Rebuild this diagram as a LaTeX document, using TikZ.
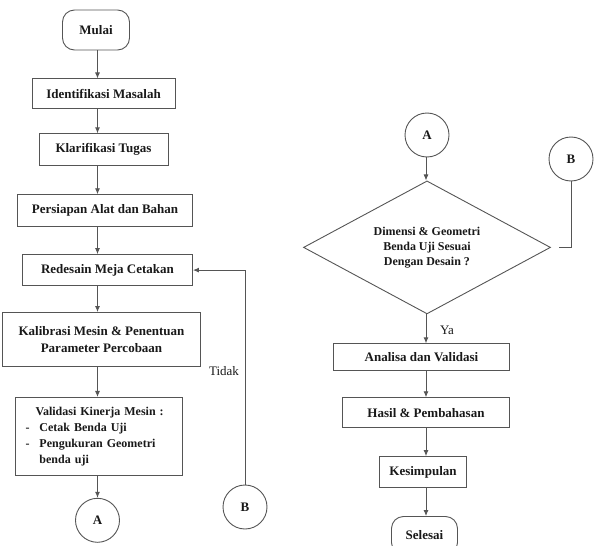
\documentclass[tikz,border=0pt]{standalone}
\usepackage{fontspec}
\setmainfont{Liberation Serif}
\usetikzlibrary{arrows.meta,positioning,shapes.geometric}
\definecolor{lineg}{RGB}{85,85,85}
\definecolor{textg}{RGB}{25,25,25}
\begin{document}
\begin{tikzpicture}[
 x=1pt,y=1pt,
 every node/.style={font=\fontsize{13}{16}\selectfont\bfseries,text=textg,align=center},
 terminal/.style={draw=lineg,line width=0.9pt,rounded corners=12pt,minimum width=67pt,minimum height=40pt,inner sep=0pt},
 process/.style={draw=lineg,line width=0.9pt,minimum height=31pt,inner sep=2pt},
 decision/.style={draw=lineg,line width=0.9pt,diamond,aspect=1.857,minimum width=247pt,minimum height=133pt,inner sep=0pt},
 connector/.style={draw=lineg,line width=0.9pt,circle,minimum size=44pt,inner sep=0pt},
 arrow/.style={-{Latex[length=6pt,width=5pt]},draw=lineg,line width=0.9pt},
 link/.style={draw=lineg,line width=0.9pt},
 note/.style={font=\fontsize{13}{16}\selectfont}
]
\useasboundingbox (0,0) rectangle (595,-546);
\clip (0,0) rectangle (595,-546);
\coordinate (lcol) at (97.5,0);
\coordinate (rcol) at (426,0);
\node[terminal] (mulai) at (96,-30) {Mulai};
\node[process,below=28pt of mulai,xshift=7.5pt,minimum width=143pt,minimum height=30pt] (ident) {Identifikasi Masalah};
\node[process,below=24pt of ident,minimum width=129pt,minimum height=32pt] (klar) {Klarifikasi Tugas};
\node[process,below=28pt of klar,xshift=1.5pt,minimum width=175pt,minimum height=32pt] (pers) {Persiapan Alat dan Bahan};
\node[process,below=27pt of pers,xshift=2.5pt,minimum width=170pt] (redes) {Redesain Meja Cetakan};
\node[process,below=26pt of redes,xshift=-6pt,minimum width=198pt,minimum height=54pt,font=\fontsize{13}{17}\selectfont\bfseries] (kalib) {Kalibrasi Mesin \& Penentuan\\Parameter Percobaan};
\node[process,below=30pt of kalib,xshift=-2.5pt,minimum height=78pt,text width=147pt,inner xsep=10pt,align=left,font=\fontsize{12}{15.8}\selectfont\bfseries] (valid) {\begin{tabular}{@{}l@{\hspace{10pt}}l@{}}\multicolumn{2}{@{}l@{}}{\hspace{10pt}Validasi Kinerja Mesin :}\\-&Cetak Benda Uji\\-&Pengukuran Geometri\\&benda uji\end{tabular}};
\node[connector,below=22pt of valid,xshift=-1.5pt] (aL) {A};
\node[connector] (bL) at (245,-507) {B};
\node[note] (tidak) at (224,-371) {Tidak};
\draw[arrow] (mulai.south -| lcol) -- (ident.north -| lcol);
\draw[arrow] (ident.south -| lcol) -- (klar.north -| lcol);
\draw[arrow] (klar.south -| lcol) -- (pers.north -| lcol);
\draw[arrow] (pers.south -| lcol) -- (redes.north -| lcol);
\draw[arrow] (redes.south -| lcol) -- (kalib.north -| lcol);
\draw[arrow] (kalib.south -| lcol) -- (valid.north -| lcol);
\draw[arrow] (valid.south -| lcol) -- (aL.north -| lcol);
\draw[arrow] (bL.north) |- (redes.east);
\node[connector] (aR) at (427,-135) {A};
\node[decision,below=23pt of aR,font=\fontsize{12}{15}\selectfont\bfseries] (dec) {Dimensi \& Geometri\\Benda Uji Sesuai\\Dengan Desain ?};
\node[connector] (bR) at (571,-159) {B};
\node[process,below=29pt of dec,xshift=-5.5pt,minimum width=176pt,minimum height=27pt] (anal) {Analisa dan Validasi};
\node[process,below=26pt of anal,xshift=4.5pt,minimum width=167pt,minimum height=30pt] (hasil) {Hasil \& Pembahasan};
\node[process,below=28pt of hasil,xshift=-3pt,minimum width=87pt,minimum height=31pt] (kesim) {Kesimpulan};
\node[terminal,below=28pt of kesim,xshift=1.5pt,minimum width=66pt,minimum height=38pt] (selesai) {Selesai};
\node[note] (ya) at (447,-330) {Ya};
\draw[arrow] (aR.south -| rcol) -- (dec.north -| rcol);
\draw[arrow] (dec.south -| rcol) -- (anal.north -| rcol);
\draw[arrow] (anal.south -| rcol) -- (hasil.north -| rcol);
\draw[arrow] (hasil.south -| rcol) -- (kesim.north -| rcol);
\draw[arrow] (kesim.south -| rcol) -- (selesai.north -| rcol);
\draw[link,shorten >=8pt] (bR.south) |- (dec.east);
\end{tikzpicture}
\end{document}
